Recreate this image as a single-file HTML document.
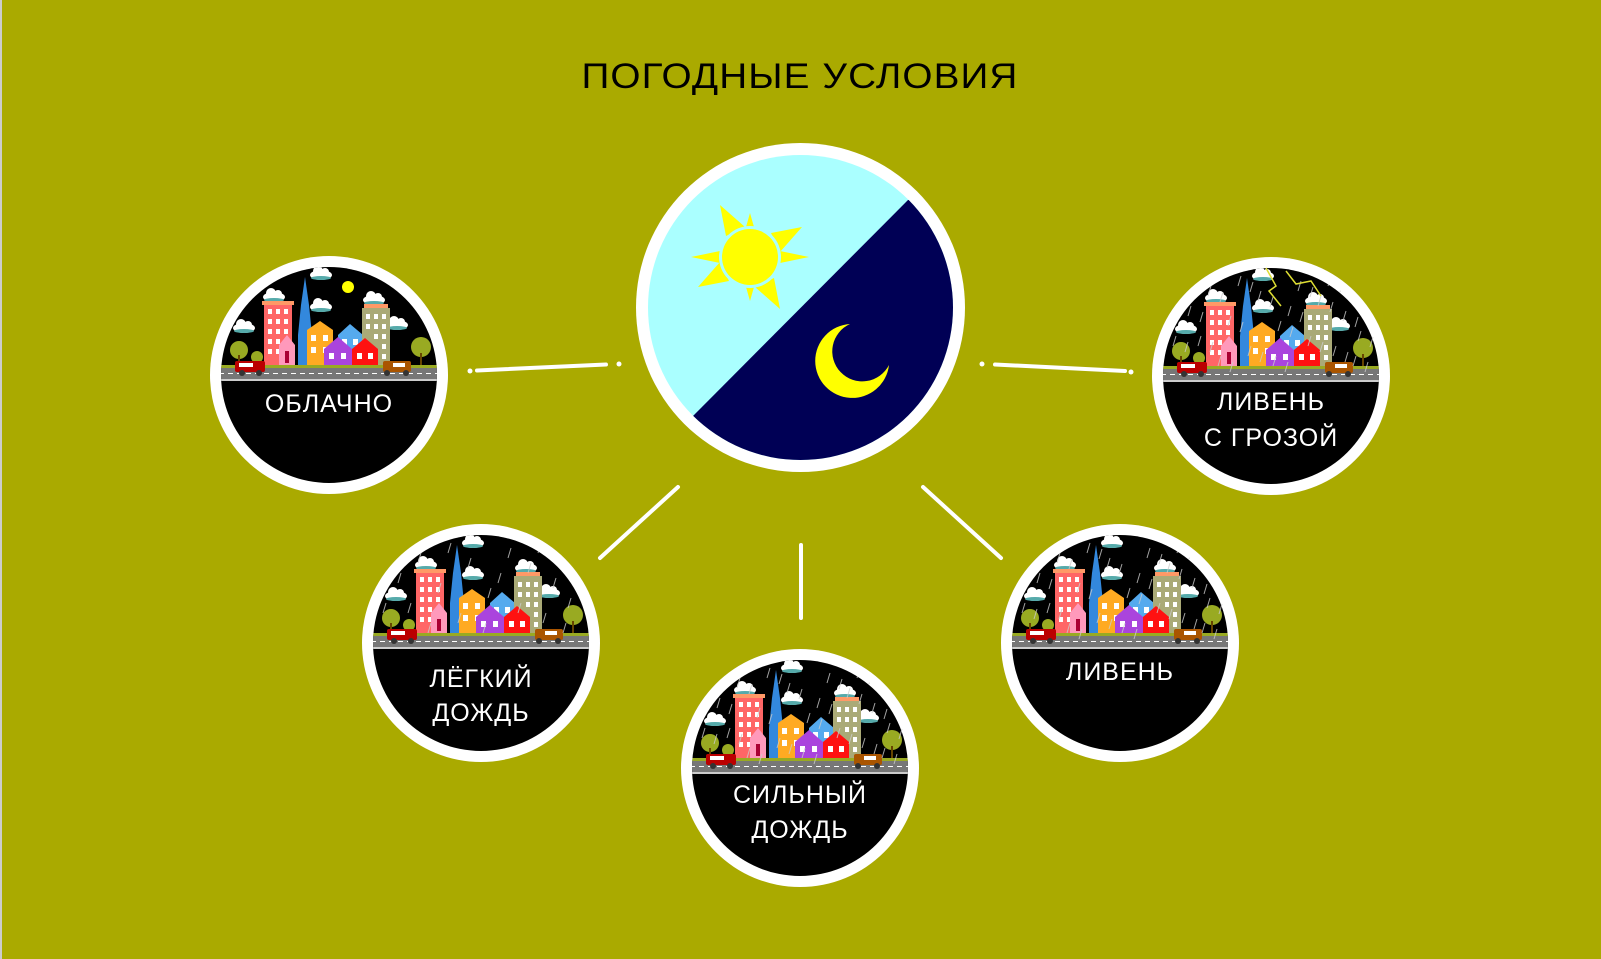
<!DOCTYPE html>
<html><head><meta charset="utf-8"><style>
html,body{margin:0;padding:0;background:#aaaa00;}
svg{display:block;}
text{font-family:"Liberation Sans",sans-serif;letter-spacing:1px;}
</style></head><body>
<svg width="1601" height="959" viewBox="0 0 1601 959" xmlns="http://www.w3.org/2000/svg">
<defs>
<clipPath id="cc"><circle cx="0" cy="0" r="108"/></clipPath>
<g id="cloud"><ellipse cx="0" cy="0" rx="11" ry="5" fill="#fff"/><circle cx="-3" cy="-4" r="5" fill="#fff"/><circle cx="4" cy="-3" r="4" fill="#fff"/><ellipse cx="0" cy="3" rx="10" ry="2" fill="#5aa"/></g>
<g id="city">
<circle r="108" fill="#000"/>
<g clip-path="url(#cc)">
<use href="#cloud" x="-55" y="-78"/><use href="#cloud" x="-8" y="-68"/><use href="#cloud" x="45" y="-75"/><use href="#cloud" x="-85" y="-47"/><use href="#cloud" x="68" y="-50"/><use href="#cloud" x="-8" y="-100"/>
<circle cx="-90" cy="-25" r="9" fill="#9a2"/><rect x="-91" y="-20" width="2" height="12" fill="#640"/>
<circle cx="-72" cy="-18" r="6" fill="#9a2"/>
<circle cx="92" cy="-28" r="10" fill="#9a2"/><rect x="91" y="-22" width="2" height="14" fill="#640"/>
<rect x="-65" y="-72" width="28" height="64" fill="#f66"/><rect x="-67" y="-74" width="32" height="4" fill="#f96"/>
<g fill="#fff"><rect x="-61" y="-66" width="4" height="5"/><rect x="-53" y="-66" width="4" height="5"/><rect x="-45" y="-66" width="4" height="5"/>
<rect x="-61" y="-56" width="4" height="5"/><rect x="-53" y="-56" width="4" height="5"/><rect x="-45" y="-56" width="4" height="5"/>
<rect x="-61" y="-46" width="4" height="5"/><rect x="-53" y="-46" width="4" height="5"/><rect x="-45" y="-46" width="4" height="5"/>
<rect x="-61" y="-36" width="4" height="5"/><rect x="-53" y="-36" width="4" height="5"/><rect x="-45" y="-36" width="4" height="5"/>
<rect x="-61" y="-26" width="4" height="5"/><rect x="-53" y="-26" width="4" height="5"/></g>
<polygon points="-24,-98 -20,-70 -17,-40 -17,-8 -31,-8 -31,-40 -28,-70" fill="#38d"/>
<polygon points="-50,-30 -42,-40 -34,-30 -34,-10 -50,-10" fill="#f9b"/><rect x="-44" y="-24" width="4" height="12" fill="#a03"/>
<polygon points="-22,-45 -9,-54 4,-45 4,-8 -22,-8" fill="#fa2"/>
<g fill="#fff"><rect x="-18" y="-40" width="5" height="6"/><rect x="-6" y="-40" width="5" height="6"/><rect x="-18" y="-28" width="5" height="6"/><rect x="-6" y="-28" width="5" height="6"/></g>
<polygon points="9,-40 21,-51 34,-40 34,-10 9,-10" fill="#5ae"/>
<g fill="#fff"><rect x="13" y="-36" width="5" height="6"/><rect x="24" y="-36" width="5" height="6"/></g>
<rect x="33" y="-67" width="28" height="59" fill="#aa7"/><rect x="35" y="-71" width="24" height="4" fill="#f96"/>
<g fill="#fff"><rect x="37" y="-61" width="4" height="5"/><rect x="45" y="-61" width="4" height="5"/><rect x="53" y="-61" width="4" height="5"/>
<rect x="37" y="-51" width="4" height="5"/><rect x="45" y="-51" width="4" height="5"/><rect x="53" y="-51" width="4" height="5"/>
<rect x="45" y="-41" width="4" height="5"/><rect x="53" y="-41" width="4" height="5"/><rect x="53" y="-31" width="4" height="5"/><rect x="53" y="-21" width="4" height="5"/></g>
<polygon points="-5,-26 9,-38 23,-26 23,-8 -5,-8" fill="#a4d"/>
<g fill="#fff"><rect x="0" y="-22" width="5" height="6"/><rect x="12" y="-22" width="5" height="6"/></g>
<polygon points="23,-26 36,-37 49,-26 49,-8 23,-8" fill="#f11"/>
<g fill="#fff"><rect x="28" y="-22" width="5" height="6"/><rect x="39" y="-22" width="5" height="6"/></g>
<rect x="-110" y="-10" width="220" height="3" fill="#9a2"/>
<rect x="-110" y="-7" width="220" height="11" fill="#777"/>
<line x1="-110" y1="-1.5" x2="110" y2="-1.5" stroke="#fff" stroke-width="1" stroke-dasharray="5 4"/>
<rect x="-110" y="4" width="220" height="2" fill="#ccc"/>
<rect x="-94" y="-14" width="30" height="11" rx="2" fill="#b00"/><rect x="-90" y="-12" width="14" height="4" fill="#fff"/>
<circle cx="-87" cy="-2" r="3" fill="#333"/><circle cx="-70" cy="-2" r="3" fill="#333"/>
<rect x="54" y="-14" width="28" height="11" rx="2" fill="#a50"/><rect x="64" y="-12" width="12" height="4" fill="#fff"/>
<circle cx="58" cy="-2" r="3" fill="#333"/><circle cx="77" cy="-2" r="3" fill="#333"/>
</g>
</g>
<g id="rain" stroke="#ccc" stroke-width="1" opacity="0.8" clip-path="url(#cc)">
<path d="M-80,-70l-3,10M-60,-90l-3,10M-40,-60l-3,10M-10,-85l-3,10M10,-55l-3,10M30,-95l-3,10M50,-80l-3,10M75,-65l-3,10M-95,-40l-3,10M-70,-40l-3,10M-20,-30l-3,10M5,-20l-3,10M40,-40l-3,10M65,-30l-3,10M90,-45l-3,10M-50,-20l-3,10M20,-70l-3,10M-30,-100l-3,10M60,-100l-3,10M85,-20l-3,10"/>
</g>
</defs>

<rect width="1601" height="959" fill="#aaaa00"/>
<rect x="0" y="0" width="2" height="959" fill="#ccc"/>

<text x="800" y="88" font-size="35" text-anchor="middle" fill="#000" textLength="437" lengthAdjust="spacingAndGlyphs">ПОГОДНЫЕ УСЛОВИЯ</text>

<g stroke="#fff" stroke-width="4" stroke-linecap="round" fill="none">
<line x1="477" y1="370.5" x2="606" y2="364.5"/>
<line x1="600" y1="558" x2="678" y2="487"/>
<line x1="801" y1="545" x2="801" y2="618"/>
<line x1="923" y1="487" x2="1001" y2="558"/>
<line x1="995" y1="364.5" x2="1125" y2="371"/>
</g>
<g fill="#fff"><circle cx="470" cy="371" r="2.5"/><circle cx="619" cy="364" r="2.5"/><circle cx="982" cy="364" r="2.5"/><circle cx="1131" cy="372" r="2.5"/></g>

<circle cx="800.5" cy="307.5" r="164.5" fill="#fff"/>
<clipPath id="cm"><circle cx="800.5" cy="307.5" r="152.5"/></clipPath>
<g clip-path="url(#cm)">
<rect x="640" y="150" width="330" height="320" fill="#aaffff"/>
<polygon points="908,200 1100,200 1100,500 693,500 693,416" fill="#000055"/>
</g>
<g transform="translate(750,257)" fill="#ffff00">
<g id="rays"><polygon points="-4,-30 0,-44 4,-30"/><polygon points="-5,-30 -30,-52 -24,-21"/></g>
<use href="#rays" transform="rotate(90)"/><use href="#rays" transform="rotate(180)"/><use href="#rays" transform="rotate(270)"/>
<polygon points="-6,-30 0,-59 6,-30" transform="rotate(90)"/><polygon points="-6,-30 0,-59 6,-30" transform="rotate(-90)"/>
<circle r="31" fill="#aaffff"/><circle r="28"/>
</g>
<path d="M889,365 A37,37 0 1 1 850,324 A30,30 0 1 0 889,365 Z" fill="#ffff00"/>

<g transform="translate(329,375)"><circle r="119" fill="#fff"/><use href="#city"/><circle cx="19" cy="-88" r="6" fill="#ff0"/>
<text y="37" font-size="25" fill="#fff" text-anchor="middle">ОБЛАЧНО</text></g>

<g transform="translate(481,643)"><circle r="119" fill="#fff"/><use href="#city"/><use href="#rain"/>
<text y="44" font-size="25" fill="#fff" text-anchor="middle">ЛЁГКИЙ</text><text y="78" font-size="25" fill="#fff" text-anchor="middle">ДОЖДЬ</text></g>

<g transform="translate(800,768)"><circle r="119" fill="#fff"/><use href="#city"/><use href="#rain"/><use href="#rain" transform="translate(12,6)"/>
<text y="35" font-size="25" fill="#fff" text-anchor="middle">СИЛЬНЫЙ</text><text y="70" font-size="25" fill="#fff" text-anchor="middle">ДОЖДЬ</text></g>

<g transform="translate(1120,643)"><circle r="119" fill="#fff"/><use href="#city"/><use href="#rain"/><use href="#rain" transform="translate(12,6)"/>
<text y="37" font-size="25" fill="#fff" text-anchor="middle">ЛИВЕНЬ</text></g>

<g transform="translate(1271,376)"><circle r="119" fill="#fff"/><use href="#city"/><use href="#rain"/><use href="#rain" transform="translate(12,6)"/>
<path d="M-5,-108 L5,-90 L-2,-85 L10,-70 M15,-105 L25,-92 L40,-95 L50,-80" stroke="#dd3" stroke-width="1.5" fill="none"/>
<text y="34" font-size="25" fill="#fff" text-anchor="middle">ЛИВЕНЬ</text><text y="70" font-size="25" fill="#fff" text-anchor="middle">С ГРОЗОЙ</text></g>
</svg>
</body></html>
